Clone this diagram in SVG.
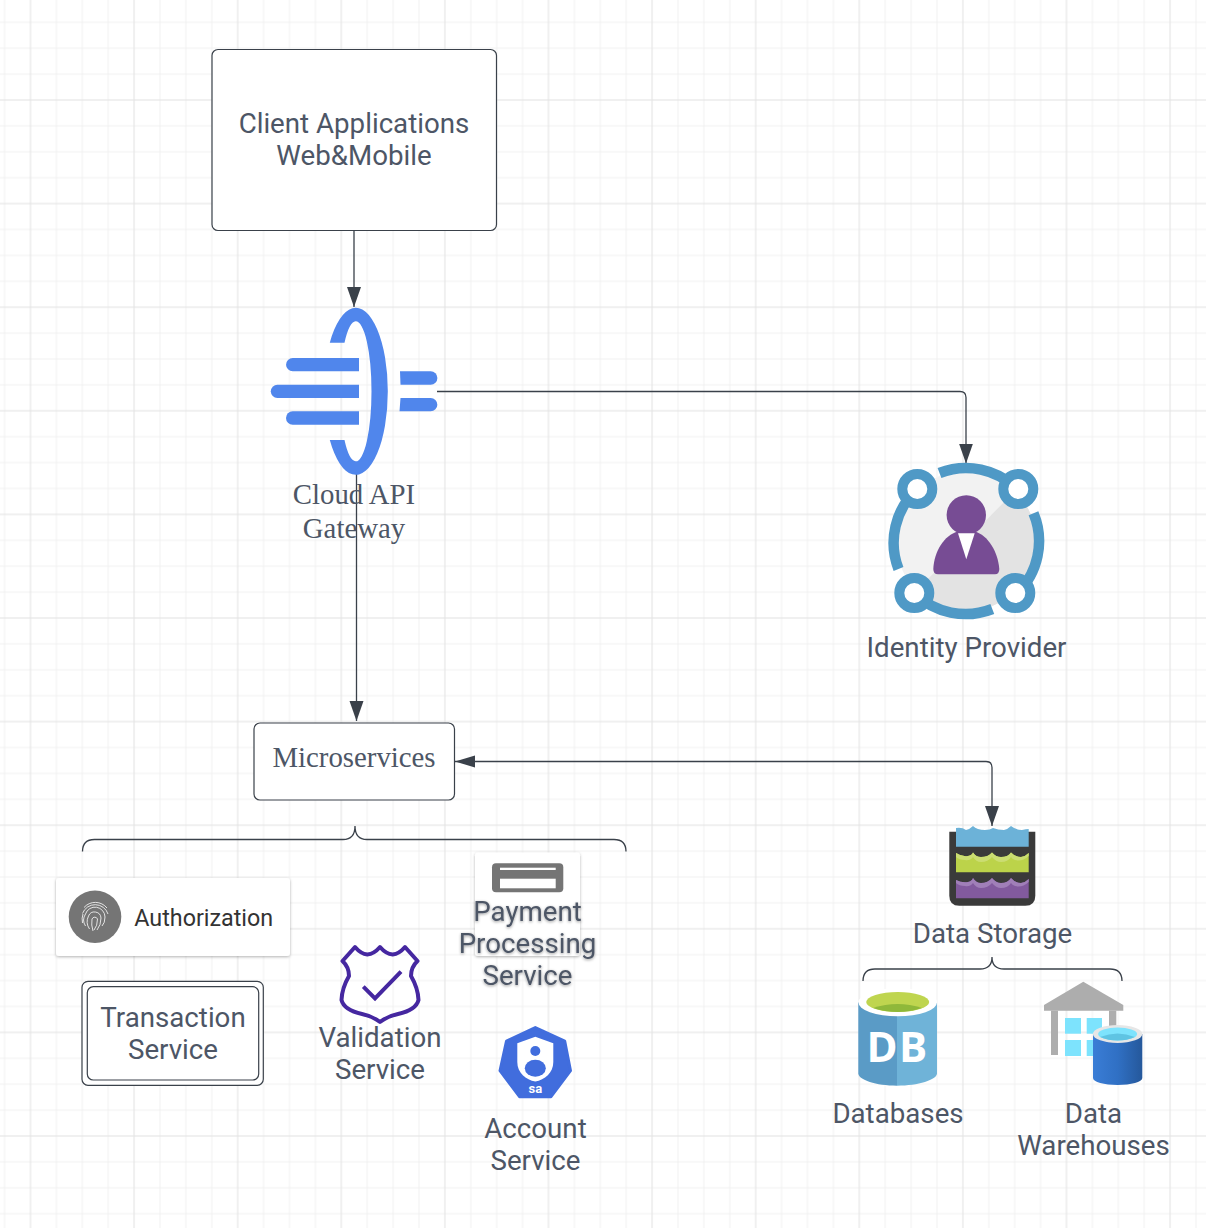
<svg xmlns="http://www.w3.org/2000/svg" width="1206" height="1228" viewBox="0 0 1206 1228">
<style>
.lbl{font-family:Roboto,"Liberation Sans",sans-serif;font-size:27.7px;fill:#4d5666;text-anchor:middle}
.ser{font-family:"Liberation Serif",serif;font-size:28.800px;fill:#4d5666;text-anchor:middle}
.box{fill:#fff;stroke:#3a414a;stroke-width:1.2}
.con{fill:none;stroke:#3a414a;stroke-width:1.3}
.brace{fill:none;stroke:#3a414a;stroke-width:1.3}
.ring{fill:none;stroke:#4f99c6;stroke-width:10.5}
.knob{fill:#fff;stroke:#4f99c6;stroke-width:10}
.gw{fill:#5086ec}
.finger{fill:none;stroke:#fff;stroke-width:.8}
</style>
<defs>
<pattern id="gridp" patternUnits="userSpaceOnUse" x="29.500" y="-4.600" width="103.600" height="103.600">
<path d="M26.900 0V103.600M52.800 0V103.600M78.700 0V103.600M0 26.900H103.600M0 52.800H103.600M0 78.700H103.600" fill="none" stroke="#f0f0f0" stroke-width=".9"/>
<path d="M1 0V103.600M0 1H103.600" fill="none" stroke="#e2e2e2" stroke-width="1"/>
</pattern>
<marker id="arrEnd" markerUnits="userSpaceOnUse" markerWidth="21" markerHeight="16" refX="20" refY="8" orient="auto"><path d="M0 1L20 8L0 15Z" fill="#3a414a"/></marker>
<marker id="arrStart" markerUnits="userSpaceOnUse" markerWidth="22" markerHeight="14" refX="1" refY="7" orient="auto"><path d="M21 1L1 7L21 13Z" fill="#3a414a"/></marker>
<filter id="cardShadow" x="-10%" y="-10%" width="120%" height="125%"><feDropShadow dx="0" dy="1" stdDeviation="1.600" flood-color="#000" flood-opacity=".3"/></filter>
<filter id="txtShadow" x="-10%" y="-10%" width="120%" height="130%"><feDropShadow dx="0" dy="1" stdDeviation="1.500" flood-color="#000" flood-opacity=".4"/></filter>
<clipPath id="idLower"><path d="M1020 486L915 592V640H1060V486Z"/></clipPath>
<linearGradient id="cyl" x1="0" x2="1" y1="0" y2="0"><stop offset="0" stop-color="#3a7dd6"/><stop offset=".5" stop-color="#3070c4"/><stop offset="1" stop-color="#25589b"/></linearGradient>
</defs>
<rect width="1206" height="1228" fill="#fff"/>
<rect id="grid" width="1206" height="1228" fill="url(#gridp)"/>

<g id="connectors">
<path class="con" d="M354 231V307" marker-end="url(#arrEnd)"/>
<path class="con" d="M437 391.500H960Q966 391.500 966 397.500V463.500" marker-end="url(#arrEnd)"/>
<path class="con" d="M356.500 470V721" marker-end="url(#arrEnd)"/>
<path class="con" d="M455 761.500H986Q992 761.500 992 767.500V826" marker-start="url(#arrStart)" marker-end="url(#arrEnd)"/>
<path class="brace" d="M82.500 851.500Q82.500 839.500 94.500 839.500H343Q355 839.500 355 826Q355 839.500 367 839.500H614Q626 839.500 626 851.500"/>
<path class="brace" d="M863 981Q863 969 875 969H980Q992 969 992 957Q992 969 1004 969H1110Q1122 969 1122 981"/>
</g>

<g id="client-apps">
<rect class="box" x="212" y="49.500" width="284.500" height="181" rx="6"/>
<text class="lbl" x="354" y="132.700">Client Applications</text>
<text class="lbl" x="354" y="164.700">Web&amp;Mobile</text>
</g>

<g id="api-gateway">
<path class="gw" d="M329.800 342.700A32 83.500 0 1 1 329.800 440L344.500 440A15.700 70 0 1 0 344.500 342.700Z"/>
<path class="gw" d="M359 358V371.300H292.700A6.650 6.650 0 0 1 292.700 358Z"/>
<path class="gw" d="M359 384.700V398H277.400A6.650 6.650 0 0 1 277.400 384.700Z"/>
<path class="gw" d="M359 411.300V424.700H292.700A6.700 6.700 0 0 1 292.700 411.300Z"/>
<path class="gw" d="M400 371.300H430.700A6.700 6.700 0 0 1 430.700 384.700H400.500Z"/>
<path class="gw" d="M400.500 398H430.700A6.650 6.650 0 0 1 430.700 411.300H399.500Z"/>
<text class="ser" x="354" y="504">Cloud API</text>
<text class="ser" x="354" y="538">Gateway</text>
</g>

<g id="identity-provider">
<circle cx="966" cy="541" r="70" fill="#f2f2f2"/>
<circle cx="966" cy="541" r="70" fill="#e3e3e3" clip-path="url(#idLower)"/>
<path class="ring" d="M939.500 473A73 73 0 0 1 1017.600 489.400"/>
<path class="ring" d="M1033.500 513.300A73 73 0 0 1 1016.500 594"/>
<path class="ring" d="M992.300 609A73 73 0 0 1 914.300 593"/>
<path class="ring" d="M898.500 569A73 73 0 0 1 917.300 489"/>
<circle class="knob" cx="917.300" cy="489" r="15"/>
<circle class="knob" cx="1018.300" cy="489" r="15"/>
<circle class="knob" cx="914.300" cy="593" r="15"/>
<circle class="knob" cx="1015.300" cy="593" r="15"/>
<circle cx="966.300" cy="515" r="19.700" fill="#774c94"/>
<path d="M958 531.500C944 535 934 552 933.300 569Q933.300 574.300 938 574.300H995Q999.300 574.300 999.300 569C998 552 988 535 974.700 531.500Z" fill="#774c94"/>
<path d="M958 533.300H974.700L966.300 559.300Z" fill="#fff"/>
<text class="lbl" x="966.500" y="656.500">Identity Provider</text>
</g>

<g id="microservices">
<rect class="box" x="254" y="723" width="200.500" height="77" rx="6"/>
<text class="ser" x="354" y="767">Microservices</text>
</g>

<g id="authorization">
<rect x="56" y="878" width="234" height="78" rx="3" fill="#fff" filter="url(#cardShadow)"/>
<circle cx="95" cy="916.700" r="26.300" fill="#757575"/>
<g class="finger">
<path d="M84 907.500A15 15 0 0 1 107 908M82.500 913.500A13.500 13.500 0 0 1 108 914M82.500 923Q81.500 918 83 914M85.500 926A11 11 0 0 1 85.500 914A10 10 0 0 1 105 917Q105 923 102 926M89.500 929A13 13 0 0 1 88.500 916A6.500 6.500 0 0 1 101 918Q101 925 97 930M93 931Q91 925 92 919A3 3 0 0 1 97.500 919Q97.500 926 94 930"/>
</g>
<text x="134.300" y="925.500" font-family="Roboto,'Liberation Sans',sans-serif" font-size="23.300" fill="#333">Authorization</text>
</g>

<g id="transaction-service">
<rect class="box" x="82" y="981.300" width="181.300" height="104" rx="6"/>
<rect class="box" x="87.300" y="986.700" width="171.400" height="93.300" rx="6"/>
<text class="lbl" x="173" y="1026.700">Transaction</text>
<text class="lbl" x="173" y="1058.700">Service</text>
</g>

<g id="validation-service">
<path d="M355 947Q361 954 367.300 954.500Q374 954 380 947Q386 954 392.700 954.500Q399 954 405 947L417.500 961Q411 967 411 976Q418 988 418.500 1000Q416 1010 398 1014Q388 1016 380 1022Q372 1016 362 1014Q344 1010 341.500 1000Q342 988 349 976Q349 967 342.500 961Z" fill="none" stroke="#4527a0" stroke-width="4" stroke-linejoin="round"/>
<path d="M363.300 986.700L375 998.300L401 971.700" fill="none" stroke="#4527a0" stroke-width="4"/>
<text class="lbl" x="380" y="1046.500">Validation</text>
<text class="lbl" x="380" y="1078.500">Service</text>
</g>

<g id="payment-service">
<rect x="475" y="852.500" width="105" height="103.500" rx="3" fill="#fff" filter="url(#cardShadow)"/>
<rect x="492" y="863.300" width="71.300" height="29" rx="4" fill="#757575"/>
<rect x="500" y="867.700" width="55.700" height="2.300" fill="#fff"/>
<rect x="500" y="878.700" width="55.700" height="9.600" fill="#fff"/>
<g filter="url(#txtShadow)">
<text class="lbl" x="527.500" y="921">Payment</text>
<text class="lbl" x="527.500" y="953">Processing</text>
<text class="lbl" x="527.500" y="985">Service</text>
</g>
</g>

<g id="account-service">
<path d="M535.300 1027.500L564.700 1041L570.500 1070.700L551 1096.700H519.500L500 1070.700L506.500 1041Z" fill="#416ddd" stroke="#416ddd" stroke-width="3" stroke-linejoin="round"/>
<path d="M535.300 1036.700L517.300 1043.300V1062C517.300 1073 526 1080 535.300 1081.500C544.600 1080 553.300 1073 553.300 1062V1043.300Z" fill="#fff"/>
<circle cx="535.300" cy="1051" r="5" fill="#416ddd"/>
<ellipse cx="535.300" cy="1068.300" rx="10.500" ry="8.500" fill="#416ddd"/>
<text x="535.300" y="1093" text-anchor="middle" font-family="Roboto,'Liberation Sans',sans-serif" font-weight="700" font-size="13" fill="#fff">sa</text>
<text class="lbl" x="535.500" y="1138">Account</text>
<text class="lbl" x="535.500" y="1170">Service</text>
</g>

<g id="data-storage">
<path d="M949.300 831.700H1035.300V895.700Q1035.300 905.700 1025.300 905.700H959.300Q949.300 905.700 949.300 895.700Z" fill="#3a3a3a"/>
<path d="M956 828Q962 827 966 830Q970 829 973 826Q977 830 985 830Q990 830 993 828Q998 830 1004 830Q1008 829 1011 826Q1016 830 1022 830Q1026 829 1028.700 829V846.700H956Z" fill="#6cb2d8"/>
<path d="M956 853Q962 857 968 856Q972 855 973 852.500Q976 857 981 857Q988 857 992 852.500Q996 857 1001 857Q1008 857 1011 852.500Q1015 857 1021 857Q1026 856 1028.700 853V872.300H956Z" fill="#bcd34a"/>
<path d="M956 853Q962 857 968 856Q972 855 973 852.500Q976 857 981 857Q988 857 992 852.500Q996 857 1001 857Q1008 857 1011 852.500Q1015 857 1021 857Q1026 856 1028.700 853V856Q1022 862 1015 860Q1012 859 1011 857Q1008 862 1001 862Q996 862 992 857Q988 862 981 862Q976 862 973 857Q970 861 965 860Q959 860 956 857Z" fill="#cbdd72"/>
<path d="M956 880Q962 883 968 882Q972 881 973 878Q976 883 981 883Q988 883 992 878Q996 883 1001 883Q1008 883 1011 878Q1015 883 1021 883Q1026 882 1028.700 879V898.300H956Z" fill="#825a9e"/>
<path d="M956 880Q962 883 968 882Q972 881 973 878Q976 883 981 883Q988 883 992 878Q996 883 1001 883Q1008 883 1011 878Q1015 883 1021 883Q1026 882 1028.700 879V882Q1022 888 1015 886Q1012 885 1011 883Q1008 888 1001 888Q996 888 992 883Q988 888 981 888Q976 888 973 883Q970 887 965 886Q959 886 956 883Z" fill="#a07fb8"/>
<text class="lbl" x="992.500" y="942.700">Data Storage</text>
</g>

<g id="databases">
<path d="M858.300 1002V1073.300C858.300 1080 876 1085.700 897 1085.700V1002Z" fill="#5a9bc6"/>
<path d="M897 1002V1085.700C918 1085.700 937 1080 937 1073.300V1002Z" fill="#6fb3d8"/>
<ellipse cx="897.700" cy="1002.300" rx="39.300" ry="14" fill="#fff"/>
<ellipse cx="897.700" cy="1002" rx="31.500" ry="10" fill="#bfd54f"/>
<path d="M873 1008Q897.700 1000 922 1008Q910 1012 897.700 1012Q885 1012 873 1008Z" fill="#8fb83a"/>
<text x="897.700" y="1061.700" text-anchor="middle" font-family="'Open Sans','Noto Sans',sans-serif" font-weight="700" font-size="42" letter-spacing="1.500" fill="#fff">DB</text>
<text class="lbl" x="898" y="1122.700">Databases</text>
</g>

<g id="data-warehouses">
<path d="M1083.300 981.700L1123.300 1005V1010.700H1044V1005Z" fill="#adadad"/>
<rect x="1051" y="1010.700" width="7" height="44.300" fill="#adadad"/>
<rect x="1109" y="1010.700" width="7.300" height="20" fill="#adadad"/>
<rect x="1065" y="1018" width="16" height="15.700" fill="#7de3fd"/>
<rect x="1086.700" y="1018" width="15.300" height="15.700" fill="#7de3fd"/>
<rect x="1065" y="1040" width="16" height="16" fill="#7de3fd"/>
<rect x="1086.700" y="1040" width="15.300" height="16" fill="#7de3fd"/>
<path d="M1093 1034V1078C1093 1082 1104 1085 1117.600 1085C1131 1085 1142.300 1082 1142.300 1078V1034Z" fill="url(#cyl)"/>
<ellipse cx="1117.600" cy="1034" rx="24.700" ry="9" fill="#e6e6e6"/>
<ellipse cx="1117.600" cy="1034" rx="19.500" ry="6.500" fill="#7de3fd"/>
<path d="M1100 1037Q1117.600 1030 1135 1037Q1127 1040.500 1117.600 1040.500Q1108 1040.500 1100 1037Z" fill="#5fc4e3"/>
<text class="lbl" x="1093.500" y="1122.700">Data</text>
<text class="lbl" x="1093.500" y="1154.700">Warehouses</text>
</g>
</svg>
